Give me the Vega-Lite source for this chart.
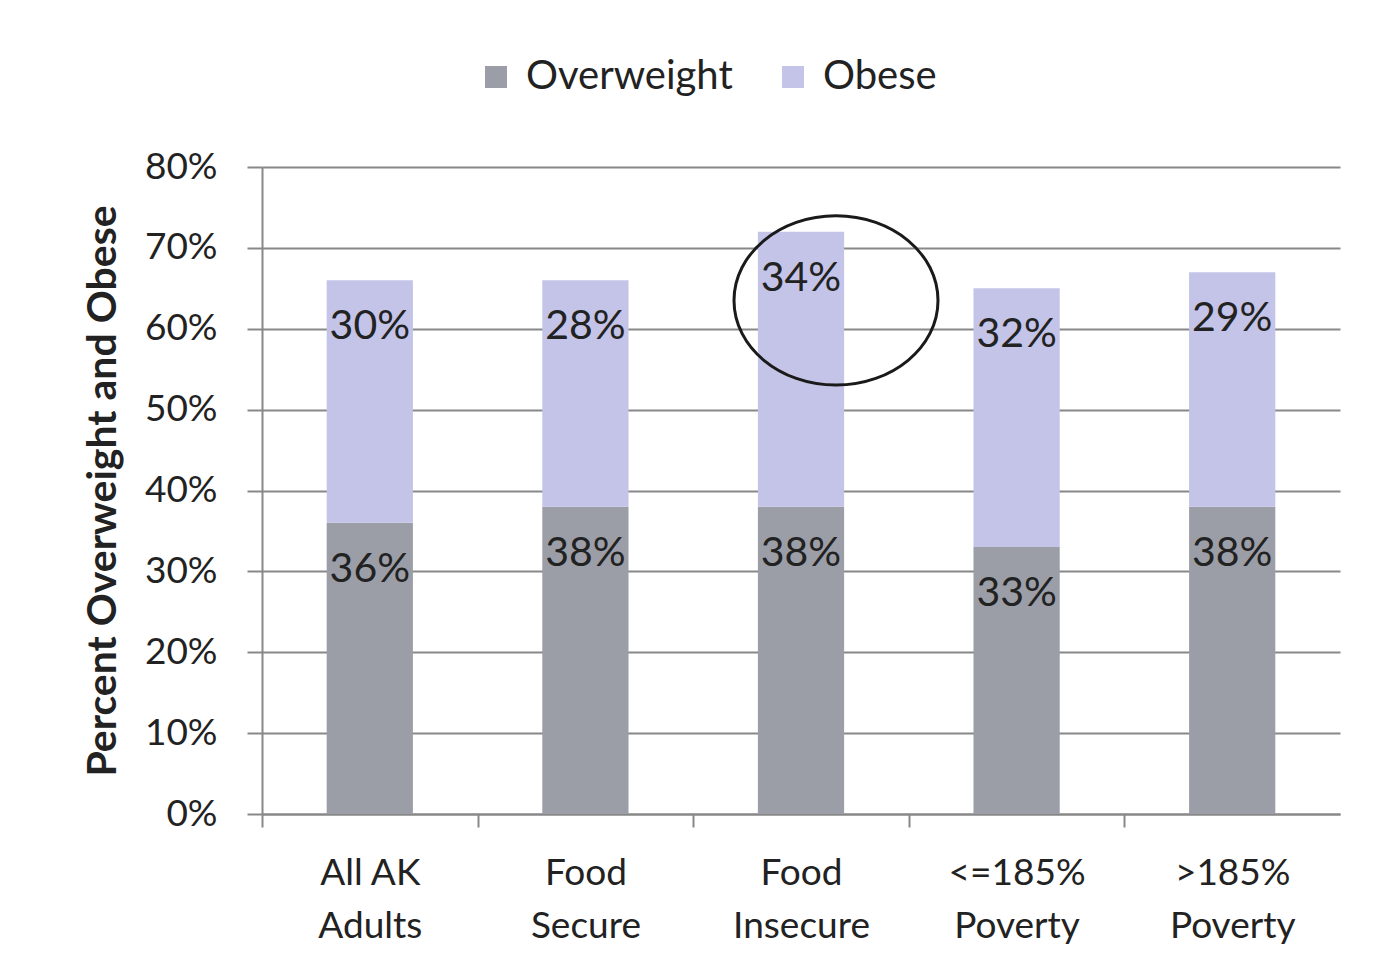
{
  "$schema": "https://vega.github.io/schema/vega-lite/v6.json",
  "width": 1078,
  "height": 647,
  "autosize": {"type": "none"},
  "padding": {"left": 262, "top": 167, "right": 33, "bottom": 160},
  "background": "white",
  "config": {
    "view": {"stroke": null},
    "font": "Lato",
    "axis": {"labelFont": "Lato", "titleFont": "Lato", "labelColor": "#222", "titleColor": "#222"},
    "legend": {"labelFont": "Lato"}
  },
  "data": {
    "values": [
      {"group": "All AK Adults", "series": "Overweight", "value": 0.36},
      {"group": "All AK Adults", "series": "Obese", "value": 0.30},
      {"group": "Food Secure", "series": "Overweight", "value": 0.38},
      {"group": "Food Secure", "series": "Obese", "value": 0.28},
      {"group": "Food Insecure", "series": "Overweight", "value": 0.38},
      {"group": "Food Insecure", "series": "Obese", "value": 0.34},
      {"group": "<=185% Poverty", "series": "Overweight", "value": 0.33},
      {"group": "<=185% Poverty", "series": "Obese", "value": 0.32},
      {"group": ">185% Poverty", "series": "Overweight", "value": 0.38},
      {"group": ">185% Poverty", "series": "Obese", "value": 0.29}
    ]
  },
  "layer": [
    {
      "mark": {"type": "bar"},
      "encoding": {
        "x": {
          "field": "group",
          "type": "nominal",
          "scale": {
            "domain": ["All AK Adults", "Food Secure", "Food Insecure", "<=185% Poverty", ">185% Poverty"],
            "paddingInner": 0.6,
            "paddingOuter": 0.3
          },
          "axis": {
            "title": null,
            "labelAngle": 0,
            "labelFontSize": 37,
            "labelPadding": 28,
            "labelLineHeight": 53,
            "labelExpr": "datum.label == 'All AK Adults' ? ['All AK', 'Adults'] : split(datum.label, ' ')",
            "domainColor": "#888",
            "domainWidth": 2,
            "tickColor": "#888",
            "tickWidth": 2,
            "tickSize": 13,
            "tickOffset": -107.8,
            "labelOffset": 107.8
          }
        },
        "y": {
          "field": "value",
          "type": "quantitative",
          "stack": "zero",
          "scale": {"domain": [0, 0.8]},
          "axis": {
            "title": "Percent Overweight and Obese",
            "titleFontSize": 41,
            "titleFontWeight": "bold",
            "titlePadding": 20,
            "values": [0, 0.1, 0.2, 0.3, 0.4, 0.5, 0.6, 0.7, 0.8],
            "format": ".0%",
            "labelFontSize": 37,
            "labelPadding": 30,
            "grid": true,
            "gridColor": "#888",
            "gridWidth": 2,
            "domainColor": "#888",
            "domainWidth": 2,
            "tickColor": "#888",
            "tickWidth": 2,
            "tickSize": 15
          }
        },
        "color": {
          "field": "series",
          "type": "nominal",
          "scale": {"domain": ["Overweight", "Obese"], "range": ["#9c9ea7", "#c3c4e8"]},
          "legend": {
            "title": null,
            "orient": "none",
            "legendX": 214,
            "legendY": -110,
            "direction": "horizontal",
            "symbolType": "square",
            "symbolSize": 484,
            "symbolStrokeWidth": 0,
            "labelFontSize": 40,
            "labelLimit": 500,
            "labelColor": "#222",
            "labelOffset": 10,
            "columnPadding": 40,
            "padding": 0
          }
        },
        "order": {"field": "series", "sort": "descending"}
      }
    },
    {
      "mark": {"type": "text", "fontSize": 41, "color": "#222", "baseline": "middle", "dy": 47},
      "encoding": {
        "x": {"field": "group", "type": "nominal"},
        "y": {"field": "value", "type": "quantitative", "stack": "zero"},
        "detail": {"field": "series"},
        "order": {"field": "series", "sort": "descending"},
        "text": {"field": "value", "type": "quantitative", "format": ".0%"}
      }
    },
    {
      "data": {"values": [{"group": "Food Insecure", "value": 0.635}]},
      "mark": {
        "type": "point",
        "shape": "M -1 0 A 1 0.83 0 1 1 1 0 A 1 0.83 0 1 1 -1 0 Z",
        "size": 41616,
        "filled": false,
        "stroke": "#1a1a1a",
        "strokeWidth": 3,
        "opacity": 1,
        "xOffset": 35
      },
      "encoding": {
        "x": {"field": "group", "type": "nominal"},
        "y": {"field": "value", "type": "quantitative", "stack": null}
      }
    }
  ]
}
